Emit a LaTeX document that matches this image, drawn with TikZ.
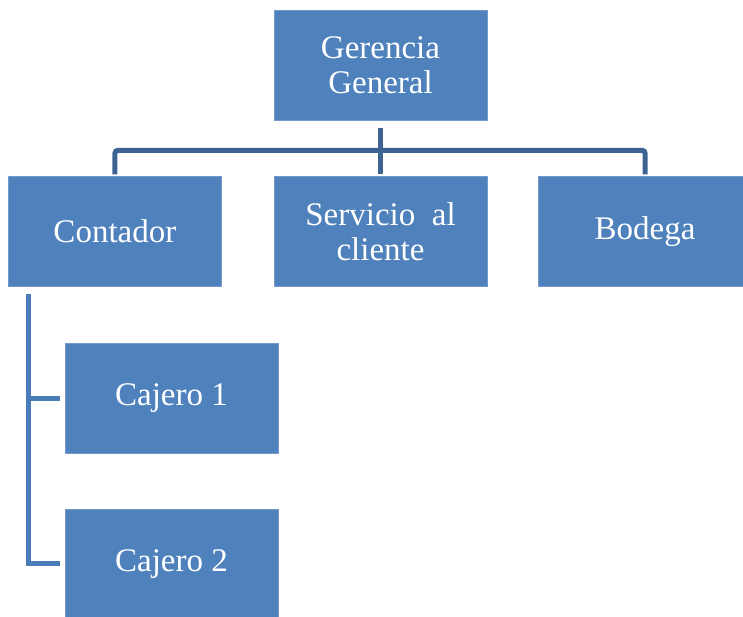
\documentclass[tikz,border=0pt]{standalone}
\usepackage{fontspec}
\setmainfont{Liberation Serif}
\usepackage{xcolor}
\usepackage{tikz}
\usetikzlibrary{positioning}
\definecolor{boxblue}{RGB}{79, 129, 189}
\definecolor{linkdark}{RGB}{61, 99, 146}
\definecolor{linkblue}{RGB}{74, 124, 184}

\begin{document}
\begin{tikzpicture}[x=1pt, y=1pt,
		unit/.style={fill=boxblue, draw=boxblue!80!white, line width=0.6pt, minimum width=213pt, minimum height=110pt,
			text=white, align=center, inner sep=0pt, font=\fontsize{33}{35}\selectfont},
		link/.style={draw=linkdark, line width=5pt},
		sublink/.style={draw=linkblue, line width=5pt}]
			\useasboundingbox (0,0) rectangle (743,-617);
			\node[unit] (ger) at (380.5,-65) {Gerencia\\General};
			\node[unit, below=56pt of ger] (serv) {Servicio\ \ al\\cliente};
			\node[unit, left=52pt of serv] (cont) {Contador};
			\node[unit, right=51pt of serv] (bod) {Bodega};
			\node[unit, below right=56pt and -157pt of cont] (caj1) {Cajero 1};
			\node[unit, below=55pt of caj1] (caj2) {Cajero 2};
			\coordinate (bus) at ([yshift=-30pt]ger.south);
			\draw[link] ([yshift=-8pt]ger.south) -- ([yshift=2pt]serv.north);
			\draw[link, rounded corners=3pt] ([yshift=2pt]cont.north) |- (bus) -| ([yshift=2pt]bod.north);
			\draw[sublink] ([xshift=20pt,yshift=-7pt]cont.south west) |- ([xshift=-5pt]caj2.west);
			\draw[sublink] ([xshift=18pt]cont.south west |- caj1.west) -- ([xshift=-5pt]caj1.west);
		\end{tikzpicture}
\end{document}
